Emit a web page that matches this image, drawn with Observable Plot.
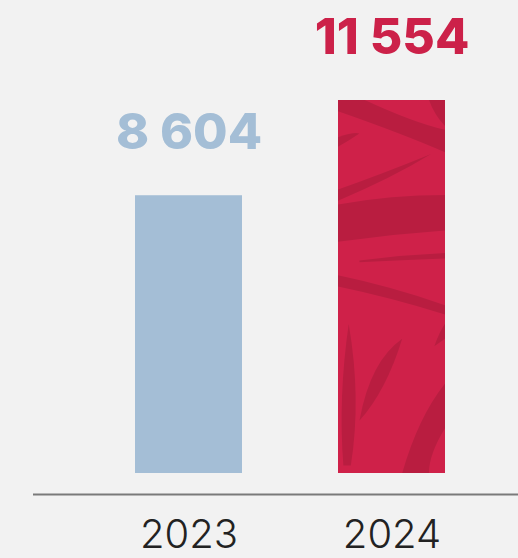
<!DOCTYPE html>
<html>
<head>
<meta charset="utf-8">
<script src="https://cdn.jsdelivr.net/npm/d3@7"></script>
<script src="https://cdn.jsdelivr.net/npm/@observablehq/plot@0.6"></script>
<style>
  html, body { margin: 0; padding: 0; background: #f2f2f2; }
  #chart { width: 518px; height: 558px; overflow: hidden; }
</style>
</head>
<body>
<div id="chart"></div>
<script>
const years = ["2023", "2024"];
const values = [8604, 11554];
const labels = ["8 604", "11 554"];
const barColors = ["#a4bed6", "url(#leafPattern)"];
const labelColors = ["#a4bed6", "#cc2149"];

const data = years.map((y, i) => ({year: y, value: values[i], label: labels[i], fill: barColors[i], color: labelColors[i]}));

const plot = Plot.plot({
  width: 518,
  height: 558,
  marginTop: 100,
  marginBottom: 85,
  marginLeft: 33,
  marginRight: 0,
  style: {background: "#f2f2f2", overflow: "visible"},
  x: {domain: years, range: [135, 445], paddingInner: 0.473, paddingOuter: 0, label: null},
  y: {domain: [0, 11554], axis: null},
  marks: [
    Plot.barY(data, {x: "year", y: "value", fill: "fill"}),
    Plot.ruleY([0], {dy: 21, stroke: "#7a7a7a", strokeWidth: 2}),
    Plot.text(data, {x: "year", y: "value", text: "label", fill: "color", lineAnchor: "bottom", dy: -47,
      fontSize: 50, fontWeight: 800, fontFamily: "Inter, 'DejaVu Sans', sans-serif", fontVariant: "proportional-nums"}),
    Plot.axisX({tickSize: 0, tickPadding: 46, fontSize: 40, fontWeight: 300, fill: "#222",
      fontFamily: "Inter, 'Open Sans', sans-serif", label: null})
  ]
});

// leaf texture pattern for the 2024 bar (style only)
const svg = d3.select(plot);
const defs = svg.insert("defs", ":first-child");
const pat = defs.append("pattern")
  .attr("id", "leafPattern")
  .attr("patternUnits", "objectBoundingBox")
  .attr("patternContentUnits", "objectBoundingBox")
  .attr("width", 1).attr("height", 1);
pat.append("rect").attr("width", 1).attr("height", 1).attr("fill", "#cf2149");
const dark = "#b91d40";
const leaves = [
  "M0,0 L0.25,0 Q0.7,0.06 1,0.08 L1,0.14 Q0.6,0.09 0,0.03 Z",
  "M0.85,0 L1,0 L1,0.07 Q0.9,0.04 0.85,0 Z",
  "M0,0.1 Q0.15,0.085 0.2,0.09 Q0.1,0.11 0,0.125 Z",
  "M0,0.24 Q0.4,0.2 0.87,0.145 Q0.5,0.21 0,0.27 Z",
  "M0,0.28 Q0.5,0.255 1,0.255 L1,0.35 Q0.5,0.36 0,0.38 Z",
  "M0.2,0.43 Q0.6,0.415 1,0.41 L1,0.425 Q0.6,0.43 0.2,0.435 Z",
  "M0,0.47 Q0.5,0.5 1,0.55 L1,0.575 Q0.5,0.53 0,0.5 Z",
  "M0.05,0.98 Q0,0.8 0.1,0.6 Q0.22,0.8 0.12,0.98 Z",
  "M0.2,0.86 Q0.3,0.7 0.6,0.64 Q0.45,0.78 0.2,0.86 Z",
  "M0.6,1 Q0.75,0.85 1,0.76 L1,0.88 Q0.85,0.95 0.85,1 Z",
  "M0.9,0.66 Q0.95,0.62 1,0.6 L1,0.64 Z"
];
leaves.forEach(d => pat.append("path").attr("d", d).attr("fill", dark));

document.getElementById("chart").appendChild(plot);
</script>
</body>
</html>
